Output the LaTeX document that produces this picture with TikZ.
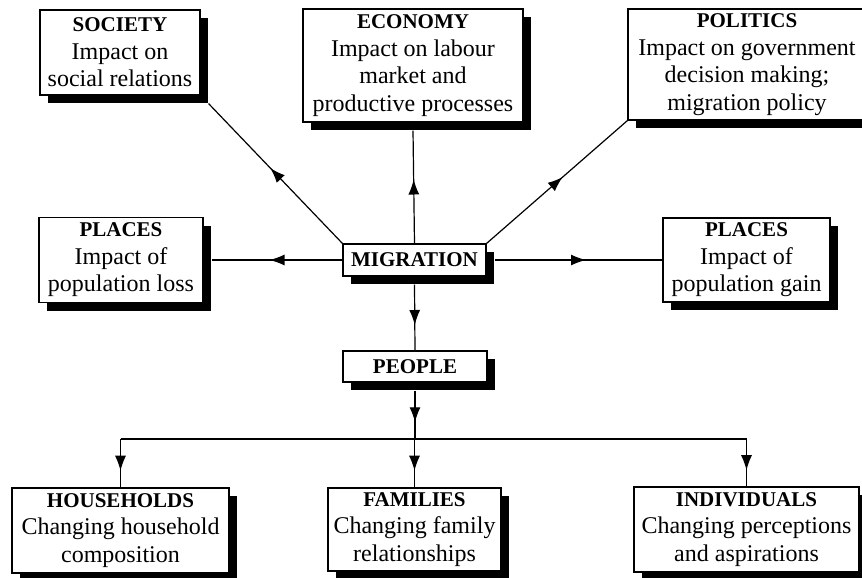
\documentclass[tikz,border=0pt]{standalone}
\usepackage{fontspec}
\setmainfont{Liberation Serif}
\usetikzlibrary{arrows.meta,shadows,decorations.markings}

\tikzset{
  box/.style={draw,fill=white,line width=1.1pt,align=center,inner sep=1pt,
    font=\fontsize{24}{27.5}\selectfont,
    drop shadow={shadow xshift=8pt,shadow yshift=-8pt,fill=black,opacity=1}},
  midarrow/.style={decoration={markings,
      mark=at position 0.5 with {\arrow[xshift=7.5pt]{Latex[length=15pt,width=11pt]}}},
    postaction={decorate}},
}
\newcommand{\head}[1]{{\fontsize{21}{27.5}\selectfont\bfseries #1}}

\begin{document}
\begin{tikzpicture}[x=1pt,y=-1pt,line width=1.2pt]
  \useasboundingbox (0,0) rectangle (862,578);
  % centre
  \node[box,minimum width=143pt,minimum height=32pt] (mig) at (414.5,260) {\head{MIGRATION}};
  % impacts
  \node[box,minimum width=160pt,minimum height=85pt] (soc) at (120,52.5)
    {\head{SOCIETY}\\Impact on\\social relations};
  \node[box,minimum width=220pt,minimum height=113pt] (eco) at (413,65.5)
    {\head{ECONOMY}\\Impact on labour\\market and\\productive processes};
  \node[box,minimum width=238pt,minimum height=111pt] (pol) at (747,64.5)
    {\head{POLITICS}\\Impact on government\\decision making;\\migration policy};
  \node[box,minimum width=164pt,minimum height=85pt] (loss) at (121,260)
    {\head{PLACES}\\Impact of\\population loss};
  \node[box,minimum width=167pt,minimum height=84pt] (gain) at (746.5,260)
    {\head{PLACES}\\Impact of\\population gain};
  % people
  \node[box,minimum width=144pt,minimum height=31pt] (ppl) at (415,366.5) {\head{PEOPLE}};
  \node[box,minimum width=217pt,minimum height=85pt] (hh) at (120.5,530.5)
    {\head{HOUSEHOLDS}\\Changing household\\composition};
  \node[box,minimum width=173pt,minimum height=83pt] (fam) at (414.5,529.5)
    {\head{FAMILIES}\\Changing family\\relationships};
  \node[box,minimum width=225pt,minimum height=85pt] (ind) at (746.5,529.5)
    {\head{INDIVIDUALS}\\Changing perceptions\\and aspirations};
  \coordinate (fork) at (415,439);

  \draw[midarrow] (mig.north west) -- ([shift={(8pt,-8pt)}]soc.south east);
  \draw[midarrow] (mig.north) -- ([yshift=-8pt]eco.south);
  \draw[midarrow] (mig.north east) -- (pol.south west);
  \draw[midarrow] (mig.west) -- ([xshift=8pt]loss.east);
  \draw[midarrow] ([xshift=8pt]mig.east) -- (gain.west);
  \draw[midarrow] ([yshift=-8pt]mig.south) -- (ppl.north);
  \draw[midarrow] ([yshift=-8pt]ppl.south) -- (fork);
  \draw (hh.north |- fork) -- (ind.north |- fork);
  \foreach \kid in {hh,fam,ind}
    \draw[midarrow] (\kid.north |- fork) -- (\kid.north);
\end{tikzpicture}
\end{document}
